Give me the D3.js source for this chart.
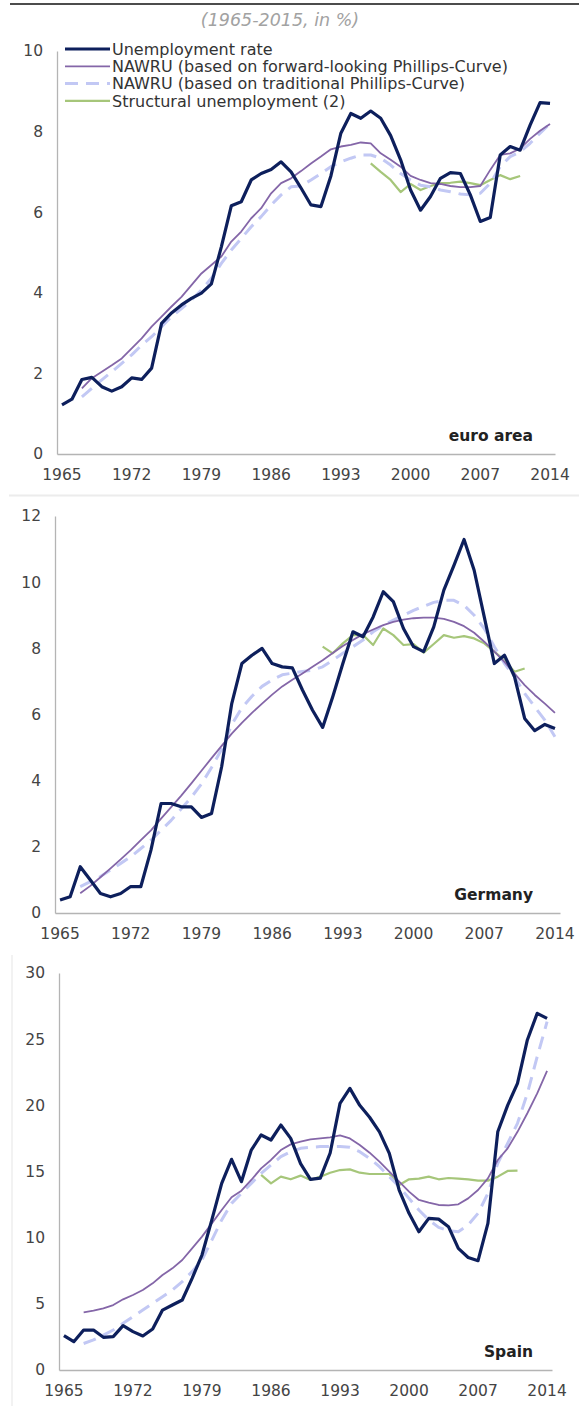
<!DOCTYPE html>
<html>
<head>
<meta charset="utf-8">
<script src="https://cdn.jsdelivr.net/npm/d3@7"></script>
<style>
  body { margin: 0; background: #fff; }
  svg { display: block; font-family: "DejaVu Sans", Verdana, sans-serif; }
</style>
</head>
<body>
<svg id="chart" width="579" height="1406"></svg>
<script>
const years = d3.range(1965, 2015);
const tickYears = [1965, 1972, 1979, 1986, 1993, 2000, 2007, 2014];

const seriesNames = [
  'Unemployment rate',
  'NAWRU (based on forward-looking Phillips-Curve)',
  'NAWRU (based on traditional Phillips-Curve)',
  'Structural unemployment (2)'
];

// euro area
const euroUnemp = [1.22,1.36,1.85,1.9,1.67,1.56,1.67,1.89,1.85,2.13,
  3.24,3.5,3.7,3.86,3.99,4.22,5.14,6.16,6.26,6.8,
  6.96,7.06,7.25,7.0,6.6,6.18,6.14,6.9,7.96,8.45,
  8.33,8.51,8.33,7.9,7.3,6.55,6.05,6.39,6.84,6.98,
  6.96,6.43,5.77,5.87,7.42,7.63,7.54,8.16,8.72,8.7];
const euroForward = [null,null,1.63,1.88,2.04,2.2,2.37,2.62,2.87,3.16,
  3.41,3.66,3.9,4.19,4.48,4.69,4.9,5.27,5.52,5.85,
  6.1,6.47,6.72,6.84,7.02,7.21,7.38,7.56,7.63,7.67,
  7.73,7.71,7.46,7.3,7.13,6.9,6.8,6.72,6.7,6.65,
  6.62,6.62,6.65,7.05,7.42,7.46,7.58,7.82,8.02,8.19];
const euroTraditional = [null,null,1.42,1.63,1.84,2.04,2.25,2.46,2.7,2.91,
  3.16,3.41,3.61,3.82,4.07,4.36,4.73,5.06,5.35,5.64,
  5.89,6.18,6.43,6.63,6.65,6.8,6.96,7.13,7.25,7.34,
  7.42,7.42,7.34,7.17,6.96,6.8,6.67,6.63,6.55,6.51,
  6.45,6.43,6.47,6.72,7.13,7.38,7.5,7.71,7.96,8.2];
const euroStructural = [null,null,null,null,null,null,null,null,null,null,
  null,null,null,null,null,null,null,null,null,null,
  null,null,null,null,null,null,null,null,null,null,
  null,7.21,7.0,6.8,6.5,6.7,6.55,6.65,6.72,6.73,
  6.76,6.72,6.67,6.8,6.92,6.82,6.9,null,null,null];

// Germany
const deUnemp = [0.39,0.49,1.4,1.0,0.59,0.49,0.59,0.8,0.8,1.9,
  3.31,3.31,3.21,3.21,2.89,3.01,4.42,6.33,7.54,7.79,
  8.0,7.54,7.44,7.41,6.74,6.13,5.61,6.54,7.54,8.5,
  8.35,8.95,9.71,9.41,8.6,8.05,7.9,8.65,9.76,10.51,
  11.29,10.36,8.95,7.54,7.79,7.14,5.88,5.51,5.7,5.58];
const deForward = [null,null,0.6,0.82,1.08,1.35,1.62,1.9,2.2,2.5,
  2.85,3.2,3.55,3.92,4.3,4.68,5.05,5.42,5.75,6.05,
  6.33,6.6,6.85,7.05,7.24,7.44,7.64,7.86,8.07,8.25,
  8.43,8.57,8.7,8.8,8.87,8.91,8.93,8.93,8.89,8.8,
  8.67,8.47,8.2,7.9,7.59,7.24,6.89,6.59,6.33,6.05];
const deTraditional = [null,null,0.8,0.95,1.1,1.3,1.5,1.7,1.95,2.2,
  2.5,2.8,3.15,3.5,3.9,4.4,4.95,5.7,6.2,6.55,
  6.85,7.05,7.2,7.25,7.3,7.34,7.44,7.64,7.85,8.05,
  8.25,8.5,8.7,8.85,9.0,9.15,9.27,9.39,9.45,9.45,
  9.3,9.0,8.6,8.05,7.54,7.14,6.64,6.23,5.83,5.33];
const deStructural = [null,null,null,null,null,null,null,null,null,null,
  null,null,null,null,null,null,null,null,null,null,
  null,null,null,null,null,null,8.05,7.85,8.15,8.4,
  8.4,8.1,8.6,8.4,8.1,8.13,7.87,8.13,8.4,8.32,
  8.37,8.3,8.15,7.9,7.64,7.29,7.39,null,null,null];

// Spain
const esUnemp = [2.6,2.14,3.02,3.02,2.47,2.52,3.35,2.9,2.57,3.1,
  4.53,4.91,5.29,6.93,8.69,11.34,14.1,15.92,14.23,16.62,
  17.76,17.38,18.51,17.5,15.6,14.4,14.5,16.4,20.15,21.28,
  20.0,19.1,18.0,16.37,13.6,11.84,10.45,11.46,11.4,10.83,
  9.19,8.5,8.26,11.08,18.0,20.0,21.66,24.94,26.95,26.57];
const esForward = [null,null,4.36,4.48,4.66,4.91,5.34,5.67,6.05,6.55,
  7.18,7.68,8.31,9.19,10.08,11.08,12.09,13.05,13.55,14.36,
  15.24,15.87,16.62,17.05,17.25,17.43,17.5,17.58,17.73,17.5,
  17.0,16.42,15.74,14.99,14.23,13.48,12.85,12.64,12.47,12.44,
  12.52,12.97,13.6,14.48,15.87,16.75,18.0,19.4,20.9,22.6];
const esTraditional = [null,null,2.0,2.27,2.64,3.02,3.53,4.03,4.53,5.04,
  5.54,6.05,6.68,7.43,8.31,9.82,11.34,12.59,13.35,14.1,
  14.86,15.49,16.12,16.5,16.75,16.83,16.88,16.88,16.88,16.83,
  16.5,15.99,15.37,14.61,13.85,12.97,12.09,11.34,10.78,10.53,
  10.45,10.96,11.84,13.35,15.62,17.13,18.64,20.9,23.68,26.32];
const esStructural = [null,null,null,null,null,null,null,null,null,null,
  null,null,null,null,null,null,null,null,null,null,
  14.74,14.1,14.61,14.41,14.69,14.36,14.61,14.91,15.11,15.16,
  14.91,14.81,14.81,14.81,13.98,14.41,14.46,14.61,14.41,14.51,
  14.46,14.41,14.31,14.31,14.61,15.04,15.06,null,null,null];

const styles = [
  {color: '#0d1f5c', width: 3.2, dash: null},
  {color: '#8466a8', width: 1.8, dash: null},
  {color: '#c2c8f4', width: 3, dash: '13,8'},
  {color: '#a6c67a', width: 2.2, dash: null}
];

const panels = [
  {name: 'euro area', series: [euroUnemp, euroForward, euroTraditional, euroStructural],
   yMax: 10, yStep: 2, x0: 57, x1: 555, yTop: 51, yBottom: 454, legend: true},
  {name: 'Germany', series: [deUnemp, deForward, deTraditional, deStructural],
   yMax: 12, yStep: 2, x0: 55, x1: 560, yTop: 516, yBottom: 913, legend: false},
  {name: 'Spain', series: [esUnemp, esForward, esTraditional, esStructural],
   yMax: 30, yStep: 5, x0: 59, x1: 552, yTop: 973, yBottom: 1370, legend: false}
];

const svg = d3.select('#chart');

// frame lines
svg.append('line').attr('x1', 10).attr('x2', 579).attr('y1', 4).attr('y2', 4)
  .attr('stroke', '#111').attr('stroke-width', 1.5);
svg.append('line').attr('x1', 9).attr('x2', 579).attr('y1', 495.5).attr('y2', 495.5)
  .attr('stroke', '#ececec').attr('stroke-width', 2);
svg.append('line').attr('x1', 12).attr('x2', 12).attr('y1', 955).attr('y2', 1406)
  .attr('stroke', '#eeeeee').attr('stroke-width', 1.5);

svg.append('text')
  .attr('x', 280).attr('y', 26)
  .attr('text-anchor', 'middle')
  .attr('font-size', 17.5).attr('font-style', 'italic')
  .attr('fill', '#a2a2a2')
  .text('(1965-2015, in %)');

panels.forEach(p => {
  const x = d3.scaleBand().domain(years).range([p.x0, p.x1]);
  const cx = yr => x(yr) + x.bandwidth() / 2;
  const y = d3.scaleLinear().domain([0, p.yMax]).range([p.yBottom, p.yTop]);

  const g = svg.append('g');

  const xAxis = g.append('g')
    .attr('transform', `translate(0,${p.yBottom})`)
    .call(d3.axisBottom(x).tickValues(tickYears).tickSize(0).tickPadding(15));
  const yAxis = g.append('g')
    .attr('transform', `translate(${p.x0},0)`)
    .call(d3.axisLeft(y).tickValues(d3.range(0, p.yMax + 0.01, p.yStep)).tickSize(0).tickPadding(14));

  [xAxis, yAxis].forEach(a => {
    a.select('.domain').attr('stroke', '#b4b4b4').attr('stroke-width', 1.3);
    a.selectAll('text').attr('font-size', 15.5).attr('fill', '#444')
      .attr('font-family', '"DejaVu Sans", Verdana, sans-serif');
  });

  const line = d3.line()
    .defined(d => d.v != null)
    .x(d => cx(d.year))
    .y(d => y(d.v));

  // draw back to front: structural, traditional, forward, unemployment
  [3, 2, 1, 0].forEach(k => {
    const s = styles[k];
    g.append('path')
      .datum(years.map((yr, i) => ({year: yr, v: p.series[k][i]})))
      .attr('fill', 'none')
      .attr('stroke', s.color)
      .attr('stroke-width', s.width)
      .attr('stroke-dasharray', s.dash)
      .attr('stroke-linejoin', 'round')
      .attr('d', line);
  });

  g.append('text')
    .attr('x', 533).attr('y', p.yBottom - 13)
    .attr('text-anchor', 'end')
    .attr('font-size', 15.5).attr('font-weight', 'bold')
    .attr('fill', '#222')
    .text(p.name);

  if (p.legend) {
    const lg = g.append('g');
    seriesNames.forEach((name, k) => {
      const ly = 49 + k * 17.3;
      const s = styles[k];
      lg.append('line')
        .attr('x1', 65).attr('x2', 110).attr('y1', ly).attr('y2', ly)
        .attr('stroke', s.color).attr('stroke-width', s.width)
        .attr('stroke-dasharray', s.dash);
      lg.append('text')
        .attr('x', 112).attr('y', ly).attr('dy', '0.35em')
        .attr('font-size', 16).attr('fill', '#333')
        .text(name);
    });
  }
});
</script>
</body>
</html>
